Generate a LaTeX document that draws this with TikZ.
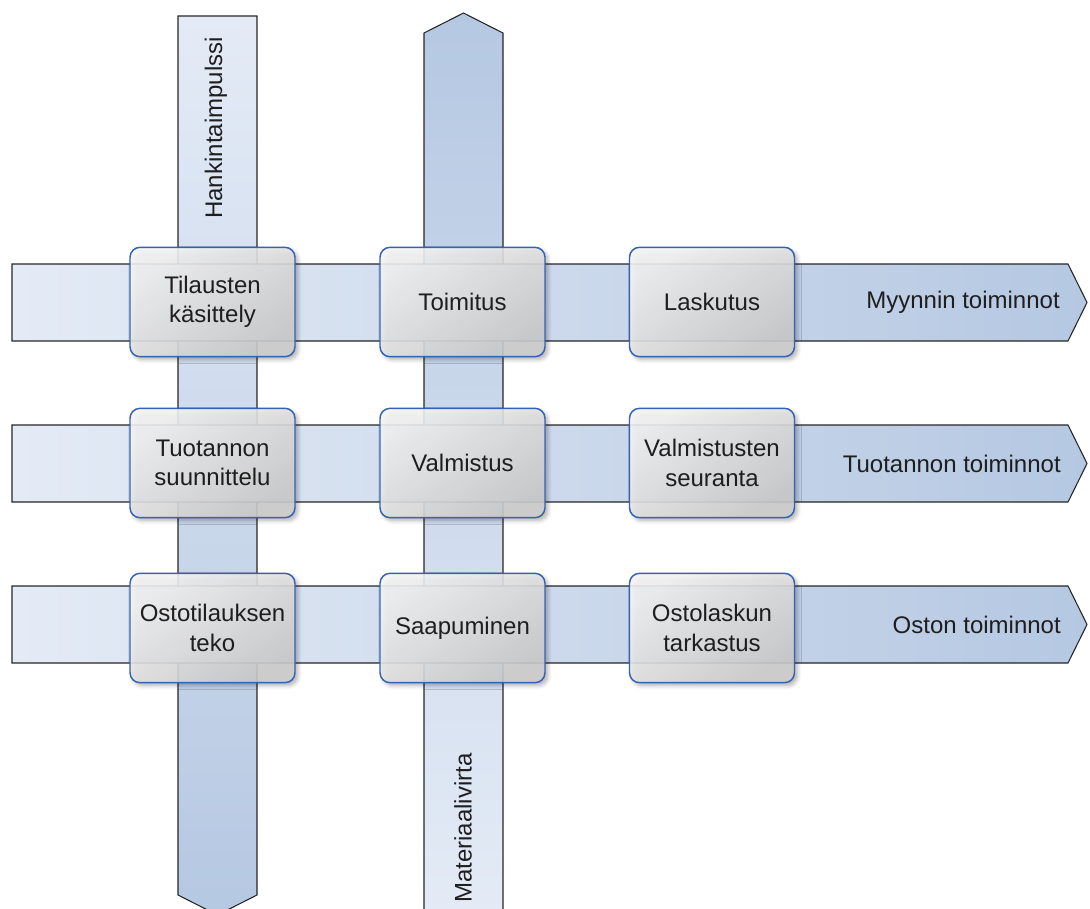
\documentclass[tikz,border=0pt]{standalone}
\usepackage{fontspec}
\setmainfont{Liberation Sans}
\usetikzlibrary{shadows.blur}
\definecolor{flowlight}{HTML}{E4EBF6}
\definecolor{flowdark}{HTML}{B5C8E2}
\definecolor{boxedge}{HTML}{3462B4}
\definecolor{boxlight}{HTML}{F7F7F7}
\definecolor{boxdark}{HTML}{D0D0D0}
\definecolor{ink}{HTML}{1E1E1E}
\begin{document}
\begin{tikzpicture}[x=0.75pt,y=-0.75pt,
  flow/.style={draw=black!85, line width=0.8pt},
  hflow/.style={flow, left color=flowlight, right color=flowdark},
  flowlabel/.style={inner sep=0pt, text=ink, font=\fontsize{18}{22}\selectfont},
  task/.style={draw=boxedge, line width=1.1pt, rounded corners=7.5pt,
    minimum width=123.75pt, minimum height=82pt, inner sep=2pt,
    align=center, text=ink, font=\fontsize{18}{22}\selectfont,
    top color=boxlight, bottom color=boxdark, shading angle=35,
    fill opacity=0.87, text opacity=1,
    blur shadow={shadow xshift=2.2pt, shadow yshift=-2.2pt,
      shadow blur radius=3pt, shadow blur steps=6, shadow opacity=35}}]
\useasboundingbox (0,0) rectangle (1090,908);

% vertical flows
\path[flow, top color=flowlight, bottom color=flowdark]
  (178,16) -- (257,16) -- (257,895) -- (217.5,915) -- (178,895) -- cycle;
\path[flow, top color=flowdark, bottom color=flowlight]
  (424,33) -- (463.5,13) -- (503,33) -- (503,915) -- (424,915) -- cycle;
\node[flowlabel, rotate=90, anchor=east] (hank) at (216,37) {Hankintaimpulssi};
\node[flowlabel, rotate=90, anchor=west] (mat) at (463,903) {Materiaalivirta};

% horizontal flows
\path[hflow] (12,264) -- (1068,264) -- (1087,302.5) -- (1068,341) -- (12,341) -- cycle;
\path[hflow] (12,425) -- (1068,425) -- (1087,463.5) -- (1068,502) -- (12,502) -- cycle;
\path[hflow] (12,586) -- (1068,586) -- (1087,624.5) -- (1068,663) -- (12,663) -- cycle;
\node[flowlabel, anchor=east] (myynti) at (1060,302.5) {Myynnin toiminnot};
\node[flowlabel, anchor=east] (tuotanto) at (1061,463.5) {Tuotannon toiminnot};
\node[flowlabel, anchor=east] (osto) at (1061,624.5) {Oston toiminnot};

% process steps
\node[task] (tilaus) at (212.5,302) {Tilausten\\käsittely};
\node[task] (toimitus) at (462.5,302) {Toimitus};
\node[task] (laskutus) at (712,302) {Laskutus};
\node[task] (suunnittelu) at (212.5,463) {Tuotannon\\suunnittelu};
\node[task] (valmistus) at (462.5,463) {Valmistus};
\node[task] (seuranta) at (712,463) {Valmistusten\\seuranta};
\node[task] (ostotilaus) at (212.5,628) {Ostotilauksen\\teko};
\node[task] (saapuminen) at (462.5,628) {Saapuminen};
\node[task] (tarkastus) at (712,628) {Ostolaskun\\tarkastus};
\end{tikzpicture}
\end{document}
